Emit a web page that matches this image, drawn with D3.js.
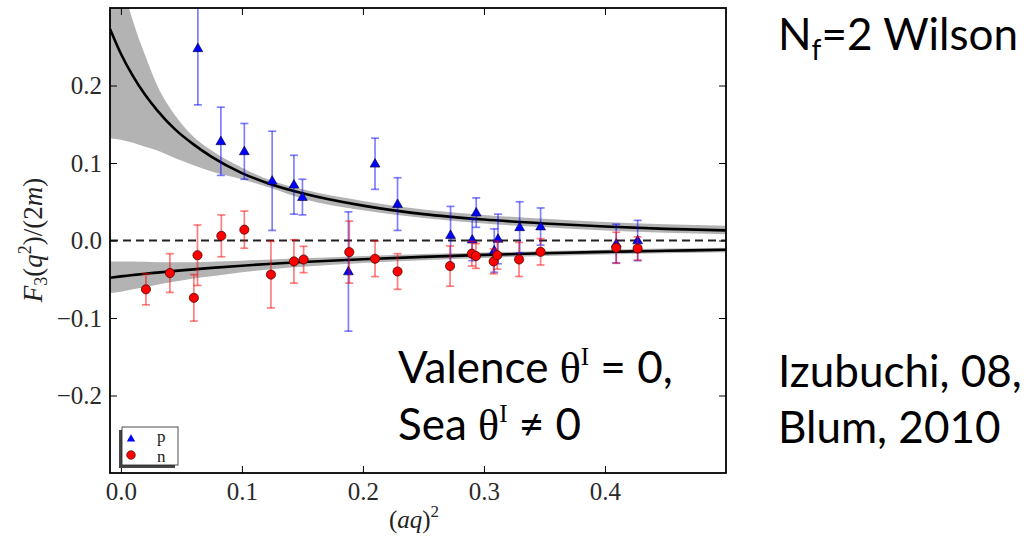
<!DOCTYPE html>
<html>
<head>
<meta charset="utf-8">
<script src="https://cdn.jsdelivr.net/npm/d3@7"></script>
<style>
  body { margin: 0; background: #fff; }
  svg { display: block; }
</style>
</head>
<body>
<div id="chart"></div>
<script>
// proton points
var pX   = [0.0636, 0.0826, 0.102, 0.125, 0.143, 0.150, 0.188, 0.210, 0.2286, 0.2724, 0.2903, 0.2936, 0.3085, 0.3116, 0.3295, 0.3468, 0.4093, 0.427];
var pY   = [0.248, 0.128, 0.115, 0.077, 0.072, 0.056, -0.040, 0.099, 0.047, 0.007, 0.001, 0.036, -0.013, 0.002, 0.017, 0.018, -0.004, 0.000];
var pErr = [0.073, 0.044, 0.036, 0.064, 0.038, 0.023, 0.077, 0.033, 0.034, 0.037, 0.027, 0.019, 0.028, 0.032, 0.033, 0.024, 0.025, 0.026];

// neutron points
var nX   = [0.0207, 0.0405, 0.0603, 0.0633, 0.083, 0.102, 0.124, 0.143, 0.151, 0.1887, 0.210, 0.2286, 0.272, 0.290, 0.2934, 0.308, 0.311, 0.329, 0.3468, 0.4093, 0.427];
var nY   = [-0.063, -0.042, -0.074, -0.019, 0.006, 0.014, -0.044, -0.027, -0.0245, -0.015, -0.0236, -0.040, -0.033, -0.017, -0.020, -0.027, -0.019, -0.0245, -0.0146, -0.0094, -0.0103];
var nErr = [0.020, 0.025, 0.030, 0.039, 0.027, 0.024, 0.043, 0.028, 0.017, 0.040, 0.023, 0.023, 0.026, 0.016, 0.016, 0.016, 0.018, 0.022, 0.017, 0.020, 0.015];

// fit curves and error bands
var fitX = [-0.009, 0.0, 0.01, 0.02, 0.03, 0.045, 0.06, 0.075, 0.1, 0.125, 0.15, 0.2, 0.25, 0.3, 0.35, 0.4, 0.45, 0.5];
var pFit = [0.273, 0.241, 0.212, 0.188, 0.168, 0.143, 0.124, 0.108, 0.087, 0.072, 0.061, 0.045, 0.034, 0.027, 0.022, 0.018, 0.015, 0.013];
var pHi  = [0.42, 0.34, 0.283, 0.239, 0.200, 0.161, 0.134, 0.116, 0.094, 0.077, 0.066, 0.051, 0.040, 0.033, 0.028, 0.024, 0.021, 0.019];
var pLo  = [0.132, 0.130, 0.126, 0.121, 0.116, 0.106, 0.097, 0.089, 0.079, 0.067, 0.054, 0.039, 0.029, 0.022, 0.017, 0.013, 0.010, 0.008];
var nFit = [-0.048, -0.0463, -0.0446, -0.0429, -0.0414, -0.0392, -0.0372, -0.0353, -0.0325, -0.0300, -0.0278, -0.0241, -0.0211, -0.0186, -0.0165, -0.0147, -0.0133, -0.0120];
var nHi  = [-0.027, -0.027, -0.027, -0.0275, -0.028, -0.028, -0.028, -0.0275, -0.026, -0.0245, -0.023, -0.020, -0.0175, -0.0155, -0.0135, -0.0118, -0.0104, -0.0092];
var nLo  = [-0.068, -0.066, -0.063, -0.060, -0.057, -0.053, -0.049, -0.046, -0.041, -0.037, -0.034, -0.029, -0.0255, -0.0225, -0.020, -0.018, -0.0165, -0.015];

var xTicks = [0.0, 0.1, 0.2, 0.3, 0.4];
var yTicks = [-0.2, -0.1, 0.0, 0.1, 0.2];
var legendLabels = ["p", "n"];

var margin = {top: 8, right: 306, bottom: 64, left: 110},
    width = 1032 - margin.left - margin.right,
    height = 537 - margin.top - margin.bottom;

var svg = d3.select("#chart")
  .append("svg")
    .attr("width", 1032)
    .attr("height", 537);

var g = svg.append("g")
    .attr("transform", "translate(" + margin.left + "," + margin.top + ")");

var x = d3.scaleLinear().domain([-0.009, 0.5]).range([0, width]);
var y = d3.scaleLinear().domain([-0.3, 0.3]).range([height, 0]);

g.append("clipPath").attr("id", "clip")
  .append("rect").attr("width", width).attr("height", height);

var plot = g.append("g").attr("clip-path", "url(#clip)");

function rows(ys, lo, hi) {
  return fitX.map(function (v, i) { return {x: v, y: ys[i], lo: lo[i], hi: hi[i]}; });
}
var pRows = rows(pFit, pLo, pHi),
    nRows = rows(nFit, nLo, nHi);

var band = d3.area()
    .x(function (d) { return x(d.x); })
    .y0(function (d) { return y(d.lo); })
    .y1(function (d) { return y(d.hi); })
    .curve(d3.curveMonotoneX);
var line = d3.line()
    .x(function (d) { return x(d.x); })
    .y(function (d) { return y(d.y); })
    .curve(d3.curveMonotoneX);

[pRows, nRows].forEach(function (r) {
  plot.append("path").datum(r).attr("d", band).style("fill", "#b3b3b3");
});
[pRows, nRows].forEach(function (r) {
  plot.append("path").datum(r).attr("d", line)
      .style("fill", "none").style("stroke", "#000").style("stroke-width", 2.6);
});

plot.append("line")
    .attr("x1", 0).attr("x2", width)
    .attr("y1", y(0)).attr("y2", y(0))
    .style("stroke", "#222").style("stroke-width", 2)
    .style("stroke-dasharray", "8,5");

function drawSeries(xs, ys, errs, color, shape) {
  var pts = xs.map(function (v, i) { return {x: v, y: ys[i], e: errs[i]}; });
  var s = plot.append("g");
  var bars = s.selectAll("g.bar").data(pts).enter().append("g")
      .style("stroke", color).style("stroke-width", 1.7).style("stroke-opacity", 0.5);
  bars.append("line")
      .attr("x1", function (d) { return x(d.x); }).attr("x2", function (d) { return x(d.x); })
      .attr("y1", function (d) { return y(d.y - d.e); }).attr("y2", function (d) { return y(d.y + d.e); });
  [-1, 1].forEach(function (sgn) {
    bars.append("line")
        .attr("x1", function (d) { return x(d.x) - 4; }).attr("x2", function (d) { return x(d.x) + 4; })
        .attr("y1", function (d) { return y(d.y + sgn * d.e); })
        .attr("y2", function (d) { return y(d.y + sgn * d.e); });
  });
  if (shape === "tri") {
    s.selectAll("path.mk").data(pts).enter().append("path")
        .attr("d", d3.symbol(d3.symbolTriangle, 42))
        .attr("transform", function (d) { return "translate(" + x(d.x) + "," + (y(d.y) + 0.5) + ")"; })
        .style("fill", color).style("stroke", "#000033").style("stroke-width", 0.6);
  } else {
    s.selectAll("circle.mk").data(pts).enter().append("circle")
        .attr("cx", function (d) { return x(d.x); })
        .attr("cy", function (d) { return y(d.y); })
        .attr("r", 4.6)
        .style("fill", color).style("stroke", "#330000").style("stroke-width", 0.7);
  }
}
drawSeries(pX, pY, pErr, "#0000ff", "tri");
drawSeries(nX, nY, nErr, "#ff0000", "circle");

// axes: ticks pointing inwards on all four sides
var tickFont = "'Liberation Serif', 'DejaVu Serif', serif";
function fmt(d) { return d3.format(".1f")(d).replace("-", "\u2212"); }

g.append("g")
    .attr("transform", "translate(0," + height + ")")
    .call(d3.axisBottom(x).tickValues(xTicks).tickSize(-7).tickSizeOuter(0).tickPadding(9).tickFormat(fmt));
g.append("g")
    .call(d3.axisLeft(y).tickValues(yTicks).tickSize(-7).tickSizeOuter(0).tickPadding(8).tickFormat(fmt));
g.append("g")
    .call(d3.axisTop(x).tickValues(xTicks).tickSize(-7).tickSizeOuter(0).tickFormat(""));
g.append("g")
    .attr("transform", "translate(" + width + ",0)")
    .call(d3.axisRight(y).tickValues(yTicks).tickSize(-7).tickSizeOuter(0).tickFormat(""));

g.selectAll(".domain").remove();
g.selectAll(".tick line").style("stroke", "#000").style("stroke-width", 1);
g.selectAll(".tick text")
    .style("font-family", tickFont).style("font-size", "25px").style("fill", "#2a2a2a");

g.append("rect")
    .attr("width", width).attr("height", height)
    .style("fill", "none").style("stroke", "#000").style("stroke-width", 1.8);

// legend
var leg = g.append("g").attr("transform", "translate(12,419)");
leg.append("rect").attr("x", -3).attr("y", 3).attr("width", 56).attr("height", 38).style("fill", "#444");
leg.append("rect").attr("width", 56).attr("height", 38)
    .style("fill", "#fff").style("stroke", "#222").style("stroke-width", 0.8);
leg.append("path").attr("d", d3.symbol(d3.symbolTriangle, 30))
    .attr("transform", "translate(9,12)").style("fill", "#0000ff");
leg.append("circle").attr("cx", 9).attr("cy", 28).attr("r", 4.3).style("fill", "#ff0000")
    .style("stroke", "#330000").style("stroke-width", 0.6);
leg.selectAll("text.lab").data(legendLabels).enter().append("text")
    .attr("x", 35).attr("y", function (d, i) { return 15 + i * 19.5; })
    .text(function (d) { return d; })
    .style("font-family", tickFont).style("font-size", "17px").style("fill", "#222");

// axis titles
var xl = svg.append("text")
    .attr("x", margin.left + width / 2 - 4).attr("y", 528)
    .attr("text-anchor", "middle")
    .style("font-family", tickFont).style("font-size", "25px").style("fill", "#222");
xl.append("tspan").text("(");
xl.append("tspan").style("font-style", "italic").text("aq");
xl.append("tspan").text(")");
xl.append("tspan").attr("dy", -11).style("font-size", "17px").text("2");

var yl = svg.append("text")
    .attr("transform", "translate(42,240) rotate(-90)")
    .attr("text-anchor", "middle")
    .style("font-family", tickFont).style("font-size", "27px").style("fill", "#222");
yl.append("tspan").style("font-style", "italic").text("F");
yl.append("tspan").attr("dy", 5).style("font-size", "18px").text("3");
yl.append("tspan").attr("dy", -5).text("(");
yl.append("tspan").style("font-style", "italic").text("q");
yl.append("tspan").attr("dy", -11).style("font-size", "18px").text("2");
yl.append("tspan").attr("dy", 11).text(")/(2");
yl.append("tspan").style("font-style", "italic").text("m");
yl.append("tspan").text(")");

// annotations
var sans = "Lato, 'Open Sans', sans-serif";
var serif = "'Liberation Serif', serif";

function label(px, py) {
  return svg.append("text").attr("x", px).attr("y", py)
      .style("font-family", sans).style("font-size", "44px").style("fill", "#000");
}

var t1 = label(778, 50);
t1.append("tspan").text("N");
t1.append("tspan").attr("dy", 10).style("font-size", "28px").text("f");
t1.append("tspan").attr("dy", -10).text("=2 Wilson");

label(778, 387).text("Izubuchi, 08,");
label(778, 443).text("Blum, 2010");

var v1 = label(398, 383);
v1.append("tspan").text("Valence ");
v1.append("tspan").style("font-family", serif).text("\u03b8");
v1.append("tspan").attr("dy", -18).style("font-family", serif).style("font-size", "25px").text("I");
v1.append("tspan").attr("dy", 18).text(" = 0,");

var v2 = label(398, 440);
v2.append("tspan").text("Sea ");
v2.append("tspan").style("font-family", serif).text("\u03b8");
v2.append("tspan").attr("dy", -18).style("font-family", serif).style("font-size", "25px").text("I");
v2.append("tspan").attr("dy", 18).text(" \u2260 0");
</script>
</body>
</html>
